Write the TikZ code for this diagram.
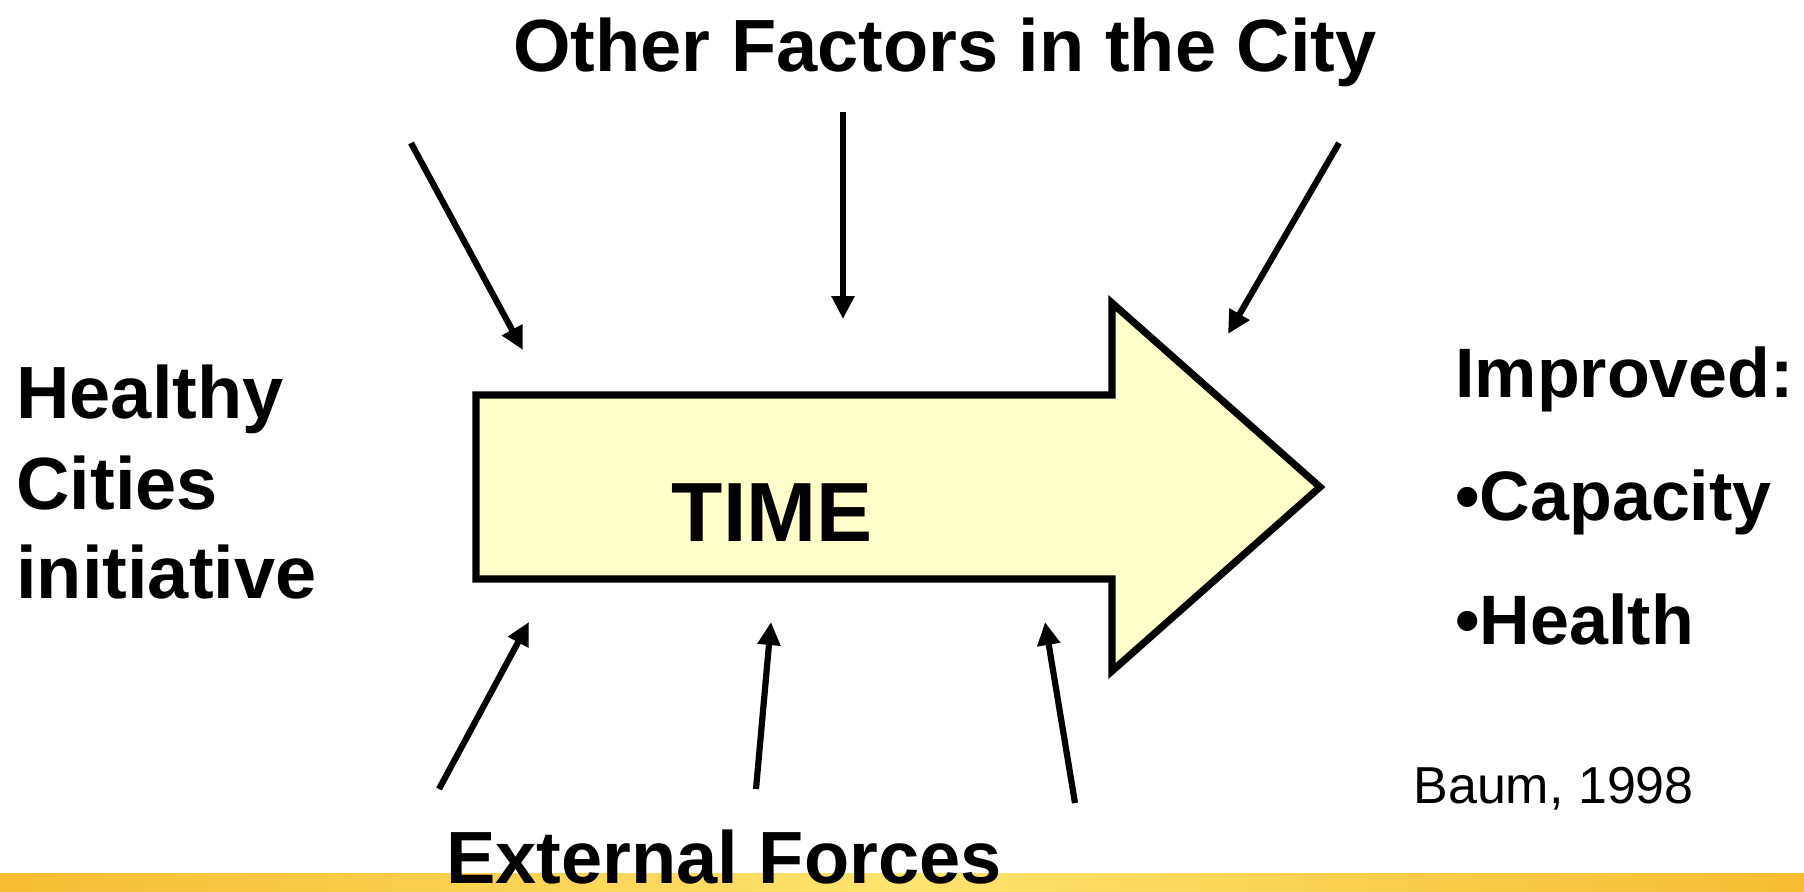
\documentclass[tikz,border=0pt]{standalone}
\usepackage{fontspec}
\setmainfont{Liberation Sans}
\usetikzlibrary{arrows.meta}
\definecolor{shaftfill}{HTML}{FFFFCC}
\definecolor{bandedge}{HTML}{F6BC32}
\definecolor{bandmid}{HTML}{FDE46E}
\begin{document}
\begin{tikzpicture}[x=0.5pt,y=-0.5pt,
  bigtext/.style={font=\fontsize{37}{44}\selectfont\bfseries, inner sep=0pt},
  sidetext/.style={font=\fontsize{35}{42}\selectfont\bfseries, inner sep=0pt},
  force/.style={line width=3.1pt, -{Triangle[length=11.5pt,width=11pt]}},
  timearrow/.style={draw=black, line width=3.6pt, fill=shaftfill, miter limit=10}]
\useasboundingbox (0,0) rectangle (1804,891);

% golden band along the bottom edge
\shade[left color=bandedge, right color=bandedge, middle color=bandmid]
  (0,873) rectangle (1804,891);

% the big TIME arrow
\coordinate (sNW) at (476,395);
\coordinate (sNE) at (1112,395);
\coordinate (hN)  at (1112,303);
\coordinate (tip) at (1320,487);
\coordinate (hS)  at (1112,671);
\coordinate (sSE) at (1112,579);
\coordinate (sSW) at (476,579);
\draw[timearrow] (sNW) -- (sNE) -- (hN) -- (tip) -- (hS) -- (sSE) -- (sSW) -- cycle;
\node[inner sep=0pt, anchor=base, font=\fontsize{42}{50}\selectfont\bfseries] (time) at (772,541) {TIME};

% headings
\node[bigtext, anchor=base] (other) at (945,71) {Other Factors in the City};
\node[bigtext, anchor=base west] (ext) at (446,883) {External Forces};

\node[bigtext, anchor=base west] (hc1) at (16,418) {Healthy};
\node[bigtext, anchor=base west] (hc2) at (16,509) {Cities};
\node[bigtext, anchor=base west] (hc3) at (16,598) {initiative};

\node[sidetext, anchor=base west] (imp1) at (1455,397) {Improved:};
\node[sidetext, anchor=base west] (imp2) at (1455,520) {•Capacity};
\node[sidetext, anchor=base west] (imp3) at (1455,644) {•Health};

\node[inner sep=0pt, anchor=base west, font=\fontsize{26}{31}\selectfont] (ref) at (1413,803) {Baum, 1998};

% influences from the city (top)
\coordinate (t1s) at (411,143);  \coordinate (t1e) at (523,350);
\coordinate (t2s) at (843,112);  \coordinate (t2e) at (843,319);
\coordinate (t3s) at (1339,143); \coordinate (t3e) at (1228,334);
\draw[force] (t1s) -- (t1e);
\draw[force] (t2s) -- (t2e);
\draw[force] (t3s) -- (t3e);

% external forces (bottom)
\coordinate (b1s) at (439,789);  \coordinate (b1e) at (529,622);
\coordinate (b2s) at (756,789);  \coordinate (b2e) at (771,622);
\coordinate (b3s) at (1075,803); \coordinate (b3e) at (1045,622);
\draw[force] (b1s) -- (b1e);
\draw[force] (b2s) -- (b2e);
\draw[force] (b3s) -- (b3e);
\end{tikzpicture}
\end{document}
